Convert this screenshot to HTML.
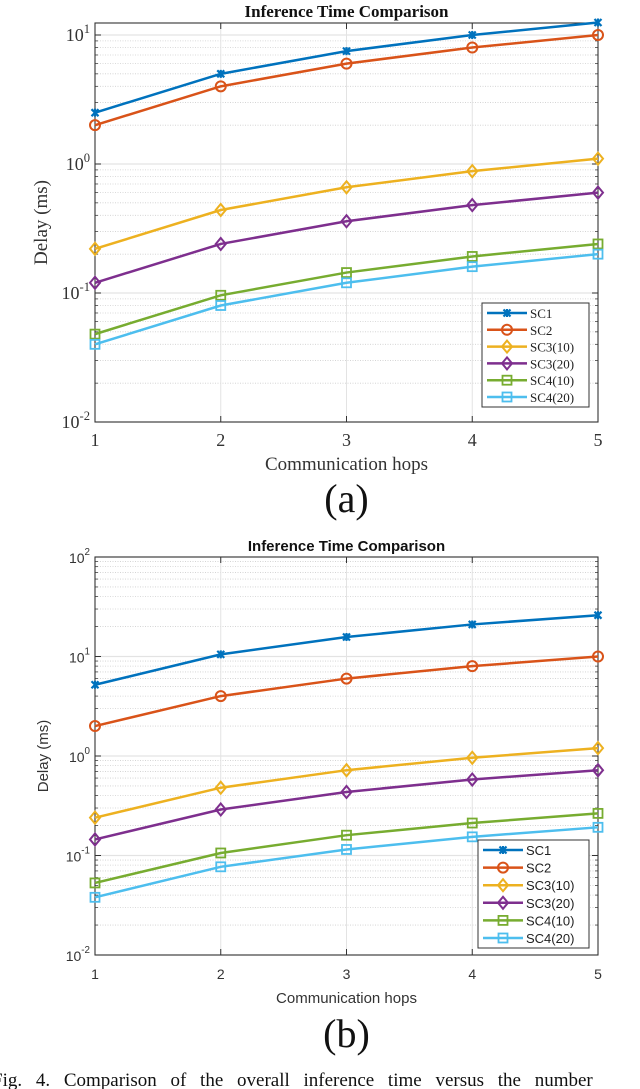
<!DOCTYPE html>
<html><head><meta charset="utf-8"><style>
html,body{margin:0;padding:0;background:#fff;width:640px;height:1089px;overflow:hidden}
svg{display:block}
</style></head><body>
<svg id="fig" width="640" height="1089" viewBox="0 0 640 1089" xmlns="http://www.w3.org/2000/svg">
<text x="-8" y="1086" font-family="Liberation Serif, serif" font-size="19" fill="#111" word-spacing="9">Fig. 4.   Comparison of the overall inference time versus the number</text>
</svg>
<script>
const hops=[1,2,3,4,5];
const seriesNames=["SC1","SC2","SC3(10)","SC3(20)","SC4(10)","SC4(20)"];
const seriesA_SC1=[2.5,5,7.5,10,12.5];
const seriesA_SC2=[2,4,6,8,10];
const seriesA_SC3_10=[0.22,0.44,0.66,0.88,1.1];
const seriesA_SC3_20=[0.12,0.24,0.36,0.48,0.6];
const seriesA_SC4_10=[0.048,0.096,0.144,0.192,0.24];
const seriesA_SC4_20=[0.04,0.08,0.12,0.16,0.2];
const seriesB_SC1=[5.2,10.5,15.7,21,26];
const seriesB_SC2=[2,4,6,8,10];
const seriesB_SC3_10=[0.24,0.48,0.72,0.96,1.2];
const seriesB_SC3_20=[0.145,0.29,0.435,0.58,0.72];
const seriesB_SC4_10=[0.053,0.106,0.16,0.212,0.265];
const seriesB_SC4_20=[0.038,0.077,0.115,0.154,0.192];
const yExpA=[-2,-1,0,1];
const yExpB=[-2,-1,0,1,2];

const colors=["#0072BD","#D95319","#EDB120","#7E2F8E","#77AC30","#4DBEEE"];
const markers=["x","o","d","d","s","s"];
const NS="http://www.w3.org/2000/svg";
const svg=document.getElementById('fig');
function mk(tag,attrs,parent){const e=document.createElementNS(NS,tag);for(const k in attrs)e.setAttribute(k,attrs[k]);(parent||svg).appendChild(e);return e;}

function marker(g,type,cx,cy,c){
  if(type==="x"){const m=mk('path',{d:`M${cx-3.5},${cy-3.5}L${cx+3.5},${cy+3.5}M${cx-3.5},${cy+3.5}L${cx+3.5},${cy-3.5}M${cx},${cy-4}L${cx},${cy+4}`,stroke:c,'stroke-width':2.2,fill:'none'},g);}
  else if(type==="o"){const m=mk('circle',{cx:cx,cy:cy,r:5,stroke:c,'stroke-width':2,fill:'none'},g);}
  else if(type==="d"){const m=mk('path',{d:`M${cx},${cy-6}L${cx+5},${cy}L${cx},${cy+6}L${cx-5},${cy}Z`,stroke:c,'stroke-width':2,fill:'none'},g);}
  else {const m=mk('rect',{x:cx-4.5,y:cy-4.5,width:9,height:9,stroke:c,'stroke-width':1.8,fill:'none'},g);}
}

function chart(o){
  const g=mk('g',{});
  
  
  const x=v=>o.x0+(v-1)/(4)*(o.x1-o.x0);
  const y=v=>o.yBot-(Math.log10(v)-o.minExp)*o.dec;
  const L=o.x0,R=o.x1,T=o.yTop,B=o.yBot;
  for(let e=o.minExp;e<o.maxExp+1;e++){
    for(let k=2;k<=9;k++){const v=k*Math.pow(10,e);const yy=y(v);if(yy<T)continue;
      const l=mk('line',{x1:L,x2:R,y1:yy,y2:yy,stroke:'#cfcfcf','stroke-width':0.8,'stroke-dasharray':'1,1.5'},g);
      mk('line',{x1:L,x2:L+3,y1:yy,y2:yy,stroke:'#444','stroke-width':0.8},g);mk('line',{x1:R,x2:R-3,y1:yy,y2:yy,stroke:'#444','stroke-width':0.8},g);}
  }
  o.yExp.forEach(e=>{const yy=y(Math.pow(10,e));
    const l=mk('line',{x1:L,x2:R,y1:yy,y2:yy,stroke:'#e3e3e3','stroke-width':1.2},g);
    mk('line',{x1:L,x2:L+6,y1:yy,y2:yy,stroke:'#333','stroke-width':1},g);mk('line',{x1:R,x2:R-6,y1:yy,y2:yy,stroke:'#333','stroke-width':1},g);
    const t=mk('text',{x:L-5,y:yy+6,'text-anchor':'end','font-family':o.font,'font-size':o.tfs,fill:'#333'},g);
    t.textContent='10';const s=mk('tspan',{dy:-8,'font-size':o.tfs*0.7},t);s.textContent=String(e);
  });
  hops.forEach(h=>{const xx=x(h);
    const l=mk('line',{x1:xx,x2:xx,y1:T,y2:B,stroke:'#e3e3e3','stroke-width':1},g);
    mk('line',{x1:xx,x2:xx,y1:B,y2:B-6,stroke:'#333'},g);mk('line',{x1:xx,x2:xx,y1:T,y2:T+6,stroke:'#333'},g);
    const t=mk('text',{x:xx,y:B+24,'text-anchor':'middle','font-family':o.font,'font-size':o.tfs,fill:'#333'},g);t.textContent=h;
  });
  const ax=mk('rect',{x:L,y:T,width:R-L,height:B-T,fill:'none',stroke:'#333','stroke-width':1.1},g);
  o.series.forEach((s,i)=>{
    const pts=s.map((v,j)=>x(hops[j])+','+y(v)).join(' ');
    const p=mk('polyline',{points:pts,fill:'none',stroke:colors[i],'stroke-width':2.5},g);
    s.forEach((v,j)=>marker(g,markers[i],x(hops[j]),y(v),colors[i]));
  });
  const tt=mk('text',{x:(L+R)/2,y:o.titleY,'text-anchor':'middle','font-family':o.font,'font-size':o.titleFs,'font-weight':'bold',fill:'#111'},g);tt.textContent='Inference Time Comparison';
  const xl=mk('text',{x:(L+R)/2,y:B+48,'text-anchor':'middle','font-family':o.font,'font-size':o.lfs,fill:'#333'},g);xl.textContent='Communication hops';
  const yl=mk('text',{x:0,y:0,'text-anchor':'middle','font-family':o.font,'font-size':o.lfs,fill:'#333',transform:`translate(${o.ylx},${(T+B)/2}) rotate(-90)`},g);yl.textContent='Delay (ms)';
  const lg=mk('g',{},g);
  mk('rect',{x:o.lx,y:o.ly,width:o.lw,height:o.lh,fill:'#fff',stroke:'#333','stroke-width':1},lg);
  seriesNames.forEach((n,i)=>{const yy=o.ly+10+i*o.lstep;
    const e=mk('g',{},lg);
    mk('line',{x1:o.lx+5,x2:o.lx+45,y1:yy,y2:yy,stroke:colors[i],'stroke-width':2.5},e);
    marker(e,markers[i],o.lx+25,yy,colors[i]);
    const t=mk('text',{x:o.lx+48,y:yy+5,'font-family':o.font,'font-size':o.legFs,fill:'#222'},e);t.textContent=n;
  });
  const cap=mk('text',{x:(L+R)/2,y:o.capY,'text-anchor':'middle','font-family':'Liberation Serif, serif','font-size':40,fill:'#111'},g);cap.textContent=o.cap;
}
chart({name:'chart-a',x0:95,x1:598,yTop:23,yBot:422,dec:129,minExp:-2,maxExp:1,yExp:yExpA,
 series:[seriesA_SC1,seriesA_SC2,seriesA_SC3_10,seriesA_SC3_20,seriesA_SC4_10,seriesA_SC4_20],
 font:'Liberation Serif, serif',tfs:18,lfs:19,titleY:17,titleFs:17,ylx:47,
 lx:482,ly:303,lw:107,lh:104,lstep:16.8,legFs:13,cap:'(a)',capY:512});
chart({name:'chart-b',x0:95,x1:598,yTop:557,yBot:955,dec:99.5,minExp:-2,maxExp:2,yExp:yExpB,
 series:[seriesB_SC1,seriesB_SC2,seriesB_SC3_10,seriesB_SC3_20,seriesB_SC4_10,seriesB_SC4_20],
 font:'Liberation Sans, sans-serif',tfs:14,lfs:15,titleY:551,titleFs:15,ylx:48,
 lx:478,ly:840,lw:111,lh:108,lstep:17.6,legFs:13,cap:'(b)',capY:1047});
</script>
</body></html>
